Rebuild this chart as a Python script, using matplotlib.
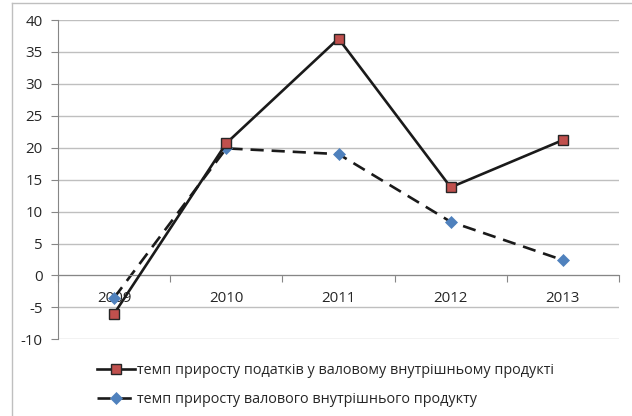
import matplotlib
matplotlib.use("Agg")
import matplotlib.pyplot as plt
from matplotlib.lines import Line2D

years = ["2009", "2010", "2011", "2012", "2013"]
tax_growth = [-6.0, 20.7, 37.1, 13.8, 21.2]
gdp_growth = [-3.5, 19.9, 19.0, 8.4, 2.4]
y_ticks = [-10, -5, 0, 5, 10, 15, 20, 25, 30, 35, 40]
label_tax = "темп приросту податків у валовому внутрішньому продукті"
label_gdp = "темп приросту валового внутрішнього продукту"

plt.rcParams['font.family'] = ['Open Sans', 'DejaVu Sans']

W, H = 632, 416
fig = plt.figure(figsize=(W / 100, H / 100), dpi=100)
fig.patch.set_facecolor('white')

# outer chart border (left and top visible)
fig.add_artist(Line2D([12 / W, 12 / W], [0, 1 - 3 / H], transform=fig.transFigure,
                      color='#BFBFBF', lw=1.0))
fig.add_artist(Line2D([12 / W, 1], [1 - 3 / H, 1 - 3 / H], transform=fig.transFigure,
                      color='#BFBFBF', lw=1.0))

ax = fig.add_axes([58 / W, 1 - 339.3 / H, (619 - 58) / W, (339.3 - 20) / H])
x = list(range(len(years)))

ax.set_xlim(-0.5, len(years) - 0.5)
ax.set_ylim(-10, 40)
ax.set_yticks(y_ticks)
ax.set_yticklabels([str(v) for v in y_ticks])

ax.grid(axis='y', color='#BFBFBF', lw=1.0)
ax.set_axisbelow(True)

for s in ['top', 'right']:
    ax.spines[s].set_visible(False)
ax.spines['left'].set_color('#868686')
ax.spines['bottom'].set_color('#868686')
ax.spines['bottom'].set_position(('data', 0))

# category boundaries as major ticks, labels as minor ticks
ax.set_xticks([i - 0.5 for i in range(len(years) + 1)])
ax.set_xticklabels([])
ax.set_xticks(x, minor=True)
ax.set_xticklabels(years, minor=True)
ax.tick_params(axis='x', which='major', direction='out', length=5, color='#868686')
ax.tick_params(axis='x', which='minor', length=0, pad=11, labelsize=10.8, labelcolor='#262626')
ax.tick_params(axis='y', direction='out', length=5, color='#868686', pad=6,
               labelsize=10.8, labelcolor='#262626')

ax.plot(x, tax_growth, color='#1a1a1a', lw=1.9, marker='s', markersize=6.5,
        markerfacecolor='#C0504D', markeredgecolor='#262626', markeredgewidth=1.0,
        label=label_tax, zorder=3)
ax.plot(x, gdp_growth, color='#1a1a1a', lw=1.9, linestyle=(0, (5, 3)), marker='D',
        markersize=6, markerfacecolor='#4F81BD', markeredgecolor='#4F81BD',
        markeredgewidth=0.5, label=label_gdp, zorder=2)

fig.legend(loc='center left', bbox_to_anchor=(97 / W, 1 - 385 / H), frameon=False,
           fontsize=10.4, handlelength=2.6, handletextpad=0.2, labelspacing=0.95,
           borderpad=0, borderaxespad=0, labelcolor='#262626')

fig.savefig('out.png', dpi=100)
